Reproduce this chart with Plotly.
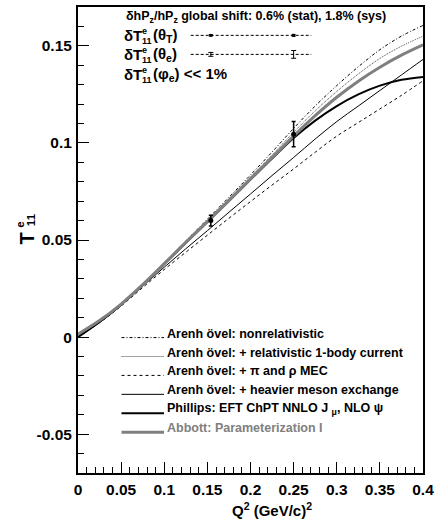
import plotly.graph_objects as go

FONT = "Liberation Sans"

# ---------------- data ----------------
q2_grid = [0.0, 0.025, 0.05, 0.075, 0.1, 0.125, 0.15, 0.175, 0.2,
           0.225, 0.25, 0.275, 0.3, 0.325, 0.35, 0.375, 0.4]

arenh_nonrel = [0.0, 0.0078, 0.0168, 0.0270, 0.0382, 0.0495, 0.0607, 0.0720, 0.0835,
                0.0953, 0.1075, 0.1190, 0.1295, 0.1392, 0.1480, 0.1550, 0.1605]
arenh_rel1body = [0.0, 0.0078, 0.0168, 0.0270, 0.0380, 0.0492, 0.0602, 0.0713, 0.0825,
                  0.0938, 0.1055, 0.1165, 0.1265, 0.1355, 0.1435, 0.1498, 0.1550]
arenh_mec = [0.0, 0.0074, 0.0160, 0.0255, 0.0348, 0.0437, 0.0525, 0.0612, 0.0698,
             0.0783, 0.0866, 0.0952, 0.1035, 0.1105, 0.1175, 0.1245, 0.1320]
arenh_heavier = [0.0, 0.0075, 0.0163, 0.0262, 0.0360, 0.0455, 0.0548, 0.0643, 0.0737,
                 0.0832, 0.0925, 0.1020, 0.1110, 0.1190, 0.1270, 0.1350, 0.1430]
phillips_eft = [0.0, 0.0078, 0.0167, 0.0268, 0.0376, 0.0485, 0.0593, 0.0702, 0.0811,
                0.0920, 0.1025, 0.1115, 0.1190, 0.1250, 0.1295, 0.1325, 0.1340]
abbott_param = [0.0015, 0.0085, 0.0170, 0.0270, 0.0378, 0.0488, 0.0595, 0.0703, 0.0815,
                0.0925, 0.1035, 0.1140, 0.1235, 0.1318, 0.1390, 0.1452, 0.1505]

q2_data = [0.154, 0.250]
t11_data = [0.0600, 0.1045]
t11_stat = [0.0028, 0.0065]

sys_theta_T = [0.0004, 0.0005]
sys_theta_e = [0.0010, 0.0020]

legend_labels = [
    "Arenh övel: nonrelativistic",
    "Arenh övel: + relativistic 1-body current",
    "Arenh övel: + \u03c0 and \u03c1 MEC",
    "Arenh övel: + heavier meson exchange",
    "Phillips: EFT ChPT NNLO J <sub>\u03bc</sub>, NLO \u03c8",
    "Abbott: Parameterization I",
]

x_tickvals = [0, 0.05, 0.1, 0.15, 0.2, 0.25, 0.3, 0.35, 0.4]
x_ticktext = ["0", "0.05", "0.1", "0.15", "0.2", "0.25", "0.3", "0.35", "0.4"]
y_tickvals = [-0.05, 0, 0.05, 0.1, 0.15]
y_ticktext = ["-0.05", "0", "0.05", "0.1", "0.15"]

# ---------------- styles ----------------
curves = [arenh_nonrel, arenh_rel1body, arenh_mec, arenh_heavier, phillips_eft, abbott_param]
line_styles = [
    dict(color="black", width=1, dash="3px,2px,1px,2px"),
    dict(color="#444444", width=1, dash="1px,1px"),
    dict(color="black", width=1, dash="3px,3px"),
    dict(color="black", width=1),
    dict(color="black", width=2),
    dict(color="#808080", width=3),
]
text_colors = ["black"] * 5 + ["#808080"]

W, H = 439, 523
L, R, T, B = 78, 12, 5, 50
PW, PH = W - L - R, H - T - B


def px(x):
    return (x - L) / PW


def py(y):
    return (H - B - y) / PH


fig = go.Figure()

for ys, st in zip(curves, line_styles):
    fig.add_trace(go.Scatter(x=q2_grid, y=ys, mode="lines", line=dict(shape="spline", **st),
                             showlegend=False, hoverinfo="skip"))

fig.add_trace(go.Scatter(
    x=q2_data, y=t11_data, mode="markers",
    marker=dict(color="black", size=5, symbol="circle"),
    error_y=dict(type="data", array=t11_stat, color="black", thickness=1.5, width=2),
    showlegend=False))

# systematic error rows (top)
row_T_y = 0.1554
row_e_y = 0.1456
fig.add_trace(go.Scatter(
    x=q2_data, y=[row_T_y] * len(q2_data), mode="markers",
    marker=dict(color="black", size=3),
    error_y=dict(type="data", array=sys_theta_T, color="black", thickness=1, width=2),
    showlegend=False))
fig.add_trace(go.Scatter(
    x=q2_data, y=[row_e_y] * len(q2_data), mode="markers",
    marker=dict(color="black", size=1),
    error_y=dict(type="data", array=sys_theta_e, color="black", thickness=1, width=2.5),
    showlegend=False))

shapes = []
annotations = []

for yrow in (row_T_y, row_e_y):
    shapes.append(dict(type="line", xref="paper", yref="y", x0=px(192), x1=px(314),
                       y0=yrow, y1=yrow, line=dict(color="black", width=1, dash="3px,2px")))


def ann(text, x, y, size, color="black", xanchor="left", yanchor="middle", angle=0):
    annotations.append(dict(text="<b>" + text + "</b>", xref="paper", yref="paper", x=px(x), y=py(y),
                            xanchor=xanchor, yanchor=yanchor, showarrow=False, textangle=angle,
                            font=dict(family=FONT, size=size, color=color),
                            borderpad=0))


# top text block
ann("\u03b4hP<sub>z</sub>/hP<sub>z</sub> global shift: 0.6% (stat), 1.8% (sys)", 126, 15, 12.5)
for yy, arg in ((34, "(\u03b8<sub>T</sub>)"), (53, "(\u03b8<sub>e</sub>)"), (73, "(\u03c6<sub>e</sub>) << 1%")):
    ann("\u03b4T", 124, yy, 15)
    ann("e", 142, yy - 5, 9)
    ann("11", 142, yy + 5, 9)
    ann(arg, 153, yy, 15)

# bottom legend
rows_y = [333, 352, 371, 390, 409, 428]
for lab, st, col, yy in zip(legend_labels, line_styles, text_colors, rows_y):
    shapes.append(dict(type="line", xref="paper", yref="paper", x0=px(122), x1=px(165),
                       y0=py(yy + 4), y1=py(yy + 4), line=st))
    ann(lab, 167, yy, 12.5, color=col)

# axis titles
ann("T", 26, 238, 20, angle=-90, xanchor="center")
ann("e", 19, 224, 11.5, angle=-90, xanchor="center")
ann("11", 30.5, 219, 11.5, angle=-90, xanchor="center")
ann("Q<sup>2</sup> (GeV/c)<sup>2</sup>", 274, 510, 15, xanchor="center")

axis_common = dict(showgrid=False, zeroline=False, showline=True, linecolor="black", linewidth=2,
                   mirror=True, ticks="inside", tickcolor="black", tickwidth=1,
                   tickfont=dict(family=FONT, size=15.5, color="black"))

fig.update_layout(
    width=W, height=H,
    margin=dict(l=L, r=R, t=T, b=B, pad=0),
    paper_bgcolor="white", plot_bgcolor="white",
    xaxis=dict(range=[0, 0.4], tickvals=x_tickvals, ticktext=["<b>" + t + "</b>" for t in x_ticktext],
               ticklen=11, ticklabelstandoff=1,
               minor=dict(dtick=0.01, tick0=0, ticks="inside", ticklen=6, tickcolor="black", tickwidth=1),
               **axis_common),
    yaxis=dict(range=[-0.07, 0.17], tickvals=y_tickvals, ticktext=["<b>" + t + "</b>" for t in y_ticktext],
               ticklen=11, ticklabelstandoff=1,
               minor=dict(dtick=0.01, tick0=0, ticks="inside", ticklen=6, tickcolor="black", tickwidth=1),
               **axis_common),
    shapes=shapes,
    annotations=annotations,
    showlegend=False,
)

fig.write_html("out.html")
